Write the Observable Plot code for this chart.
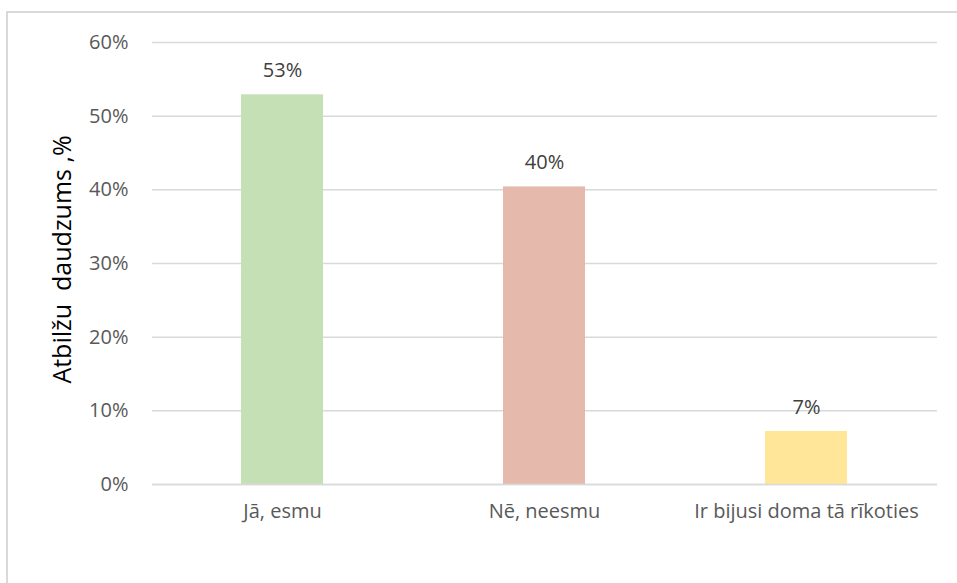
<!DOCTYPE html>
<html>
<head>
<meta charset="utf-8">
<script src="https://cdn.jsdelivr.net/npm/d3@7"></script>
<script src="https://cdn.jsdelivr.net/npm/@observablehq/plot@0.6"></script>
<style>
  html, body { margin: 0; padding: 0; background: #fff; overflow: hidden; }
  #wrap { position: relative; width: 957px; height: 583px; overflow: hidden; }
  #border { position: absolute; left: 6px; top: 11px; width: 980px; height: 600px; border: 2px solid #d9d9d9; box-sizing: border-box; }
  #chart { position: absolute; left: 0; top: 0; }
</style>
</head>
<body>
<div id="wrap">
  <div id="border"></div>
  <div id="chart"></div>
</div>
<script>
const categories = ["Jā, esmu", "Nē, neesmu", "Ir bijusi doma tā rīkoties"];
const values = [0.529, 0.404, 0.072];
const labels = ["53%", "40%", "7%"];
const colors = ["#c5e0b4", "#e6b9ad", "#ffe699"];
const yTicks = [0, 0.1, 0.2, 0.3, 0.4, 0.5, 0.6];
const yTitle = "Atbilžu  daudzums ,%";

const data = categories.map((c, i) => ({cat: c, value: values[i], label: labels[i], color: colors[i]}));

const chart = Plot.plot({
  width: 957,
  height: 583,
  marginLeft: 152,
  marginRight: 20,
  marginTop: 42,
  marginBottom: 99,
  style: {fontFamily: "'Open Sans', 'Noto Sans', sans-serif", background: "transparent", fontSize: "20px"},
  x: {domain: categories, paddingInner: 0.687, paddingOuter: 0.3415, label: null},
  y: {domain: [0, 0.6], label: null},
  marks: [
    Plot.ruleY(yTicks, {stroke: "#d9d9d9", strokeWidth: 1.5}),
    Plot.barY(data, {x: "cat", y: "value", fill: "color"}),
    Plot.ruleY([0], {stroke: "#d9d9d9", strokeWidth: 1.5}),
    Plot.text(data, {x: "cat", y: "value", text: "label", dy: -24, fill: "#404040", fontSize: 20}),
    Plot.axisY(yTicks, {tickFormat: d => Math.round(d * 100) + "%", tickSize: 0, tickPadding: 24, fontSize: 20, fill: "#595959"}),
    Plot.axisX({tickSize: 0, tickPadding: 19, fontSize: 20, fill: "#595959"}),
    Plot.text([yTitle], {frameAnchor: "left", textAnchor: "middle", dx: -90, dy: -4, rotate: -90, fontSize: 25, fill: "#000", text: d => d})
  ]
});
document.getElementById("chart").appendChild(chart);
</script>
</body>
</html>
